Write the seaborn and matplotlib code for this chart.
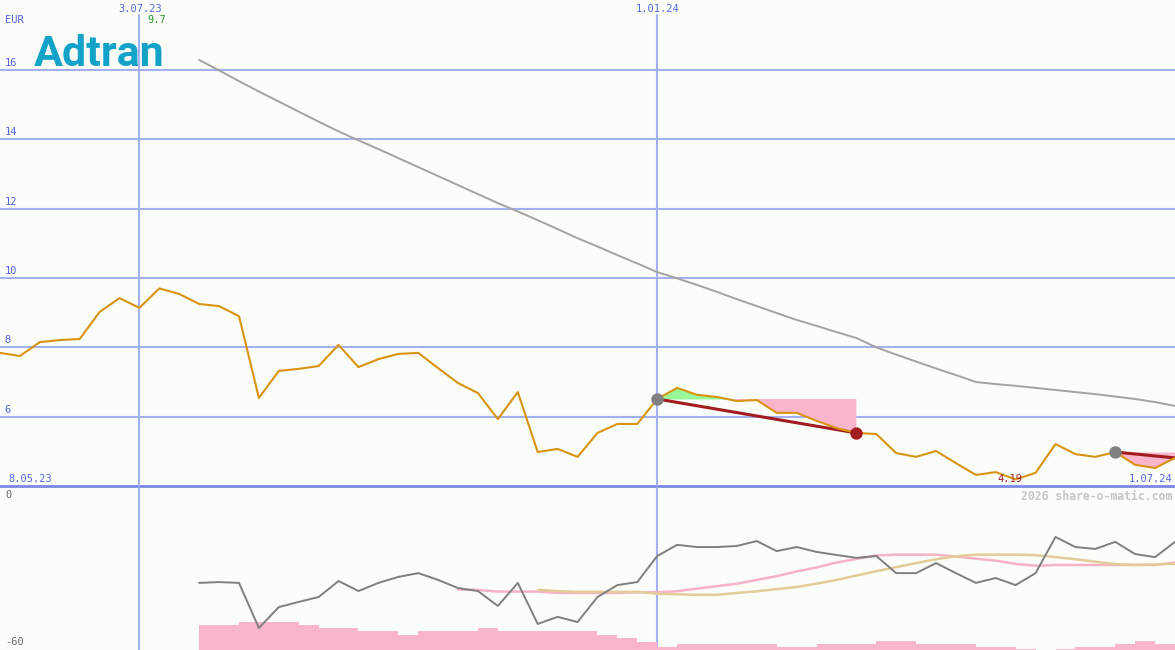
import pandas as pd
import seaborn as sns
import matplotlib.pyplot as plt

# weekly closes in EUR, 15 May 2023 .. 1 Jul 2024
weeks = pd.date_range('2023-05-15', '2024-07-01', freq='7D')
price = [7.84, 7.75, 8.15, 8.21, 8.24, 9.02, 9.42, 9.14, 9.70, 9.54,
         9.25, 9.19, 8.90, 6.54, 7.32, 7.38, 7.46, 8.07, 7.43, 7.66,
         7.81, 7.84, 7.40, 6.97, 6.68, 5.93, 6.71, 4.98, 5.07, 4.84,
         5.53, 5.79, 5.79, 6.51, 6.83, 6.63, 6.57, 6.45, 6.48, 6.11,
         6.11, 5.88, 5.67, 5.53, 5.50, 4.95, 4.84, 5.01, 4.66, 4.32,
         4.40, 4.19, 4.38, 5.21, 4.92, 4.84, 4.98, 4.61, 4.52, 4.81]

# long moving average, from week 10 on
ma_long = [16.29, 15.99, 15.68, 15.38, 15.09, 14.80, 14.51, 14.23, 13.97, 13.72,
           13.46, 13.20, 12.94, 12.68, 12.42, 12.16, 11.92, 11.67, 11.41, 11.15,
           10.91, 10.66, 10.42, 10.17, 9.99, 9.80, 9.60, 9.39, 9.19, 8.99,
           8.79, 8.62, 8.44, 8.27, 8.00, 7.79, 7.59, 7.39, 7.20, 7.00,
           6.94, 6.89, 6.83, 6.77, 6.71, 6.65, 6.58, 6.51, 6.42, 6.31]

# lower panel: oscillator (from week 10), its two averages, and bars
osc = [-35.3, -35.0, -35.3, -51.9, -44.2, -42.3, -40.5, -34.6, -38.3, -35.3,
       -33.1, -31.7, -34.2, -37.2, -38.3, -43.8, -35.3, -50.4, -47.8, -49.7,
       -40.5, -36.1, -35.0, -25.4, -21.3, -22.1, -22.1, -21.7, -19.9, -23.6,
       -22.1, -23.9, -25.0, -26.1, -25.4, -31.7, -31.7, -28.0, -31.7, -35.3,
       -33.5, -36.1, -31.7, -18.4, -22.1, -22.8, -20.2, -24.7, -25.8, -20.2]
osc_avg1 = [-37.7, -37.9, -38.5, -38.5, -38.5, -39.0, -39.0, -39.0, -39.0, -38.8,
            -38.7, -38.4, -37.4, -36.5, -35.6, -34.2, -32.8, -31.1, -29.6, -27.8,
            -26.5, -25.2, -24.9, -24.9, -24.9, -25.6, -26.4, -27.1, -28.3, -29.0,
            -28.7, -28.7, -28.7, -28.7, -28.7, -28.7, -27.8]          # from week 23
osc_avg2 = [-37.9, -38.3, -38.6, -38.6, -38.6, -38.6, -39.3, -39.5, -39.7, -39.7,
            -39.0, -38.4, -37.6, -36.8, -35.6, -34.2, -32.6, -31.0, -29.5, -28.0,
            -26.6, -25.5, -24.9, -24.9, -24.9, -25.1, -25.8, -26.6, -27.5, -28.4,
            -28.7, -28.5, -28.3]                                        # from week 27
bars = [9.2, 9.2, 10.3, 10.3, 10.3, 9.2, 8.1, 8.1, 7.0, 7.0,
        5.5, 7.0, 7.0, 7.0, 8.1, 7.0, 7.0, 7.0, 7.0, 7.0,
        5.5, 4.4, 2.9, 1.2, 2.35, 2.35, 2.35, 2.35, 2.35, 1.2,
        1.2, 2.35, 2.35, 2.35, 3.45, 3.45, 2.35, 2.35, 2.35, 1.2,
        1.2, 0.4, 0.0, 0.4, 1.2, 1.2, 2.35, 3.45, 2.35]                # weeks 10..58

# trend windows (start week, end week)
windows = [(33, 43), (56, 59)]
marked_dates = ['2023-07-03', '2024-01-01']

BG = '#fbfdf9'
GRID = '#a3b0f2'
BLUE_TXT = '#5566e6'
ORANGE = '#d89410'
DARKRED = '#a21d22'

sns.set_style('white')
plt.rcParams['font.family'] = ['DejaVu Sans Mono']

W, H = 1175, 650
fig = plt.figure(figsize=(W / 100, H / 100), dpi=100)
fig.patch.set_facecolor(BG)
ax = fig.add_axes([0, 1 - 486 / H, 1, 486 / H])
ax2 = fig.add_axes([0, 0, 1, 163 / H])
for a in (ax, ax2):
    a.set_facecolor(BG)
    a.set_xlim(weeks[0], weeks[-1])
    a.axis('off')
ax.set_ylim(4, 18.02)
ax2.set_ylim(-60, 0)


def fx(x):
    return x / W


def fy(y):
    return 1 - y / H


# grid
for v in [6, 8, 10, 12, 14, 16]:
    ax.axhline(v, color=GRID, lw=1.5, zorder=1)
    ax.text(0.004, v + 0.06, str(v), transform=ax.get_yaxis_transform(),
            color=BLUE_TXT, fontsize=7.5, va='bottom', ha='left')
ax.axhline(4, color='#7b88e6', lw=2, zorder=1, clip_on=False)
for d in marked_dates:
    ax.axvline(pd.Timestamp(d), ymax=(486 - 15) / 486, color=GRID, lw=1.5, zorder=1)
    ax2.axvline(pd.Timestamp(d), color=GRID, lw=1.5, zorder=1)

df = pd.DataFrame({'week': weeks, 'price': price})
ma_df = pd.DataFrame({'week': weeks[10:], 'ma': ma_long})

# trend fills and lines
for s, e in windows:
    seg = df.iloc[s:e + 1]
    base = price[s]
    ax.fill_between(seg['week'], seg['price'], base, where=seg['price'] >= base,
                    interpolate=True, color='#98f898', lw=0, zorder=2)
    ax.fill_between(seg['week'], seg['price'], base, where=seg['price'] <= base,
                    interpolate=True, color='#f9b5c9', lw=0, zorder=2)
    ax.plot([weeks[s], weeks[e]], [price[s], price[e]], color=DARKRED, lw=2.2, zorder=3)

sns.lineplot(data=ma_df, x='week', y='ma', ax=ax, color='#a3a3a3', lw=1.4, zorder=3)
sns.lineplot(data=df, x='week', y='price', ax=ax, color=ORANGE, lw=1.5, zorder=4)

for s, e in windows:
    ax.scatter([weeks[s]], [price[s]], s=80, color='#808080', zorder=5, lw=0)
    if e < len(price) - 1:
        ax.scatter([weeks[e]], [price[e]], s=80, color=DARKRED, zorder=5, lw=0)

# lower panel
ax2.bar(weeks[10:59], bars, bottom=-60, width=7, align='edge', color='#f9b5ca', lw=0, zorder=2)
sns.lineplot(x=weeks[23:], y=osc_avg1, ax=ax2, color='#f8b2c8', lw=1.8, zorder=3)
sns.lineplot(x=weeks[27:], y=osc_avg2, ax=ax2, color='#e3cb9a', lw=1.8, zorder=3)
sns.lineplot(x=weeks[10:], y=osc, ax=ax2, color='#7f7f7f', lw=1.4, zorder=4)

# labels
fig.text(fx(5), fy(20), 'EUR', color=BLUE_TXT, fontsize=7.5, va='center', ha='left')
fig.text(fx(140), fy(9), '3.07.23', color=BLUE_TXT, fontsize=7.5, va='center', ha='center')
fig.text(fx(658), fy(9), '1.01.24', color=BLUE_TXT, fontsize=7.5, va='center', ha='center')
fig.text(fx(147), fy(20), '9.7', color='#2a9a2a', fontsize=7.5, va='center', ha='left')
fig.text(fx(8), fy(479), '8.05.23', color=BLUE_TXT, fontsize=7.5, va='center', ha='left')
fig.text(fx(1172), fy(479), '1.07.24', color=BLUE_TXT, fontsize=7.5, va='center', ha='right')
fig.text(fx(1010), fy(479), '4.19', color=DARKRED, fontsize=7.5, va='center', ha='center')
fig.text(fx(1172), fy(496), '2026 share-o-matic.com', color='#c6c6c6', fontsize=8.3,
         va='center', ha='right', fontweight='bold')
fig.text(fx(5), fy(495), '0', color='#666666', fontsize=7.5, va='center', ha='left')
fig.text(fx(5), fy(642), '-60', color='#666666', fontsize=7.5, va='center', ha='left')
fig.text(fx(34), fy(66), 'Adtran', color='#14a2c8', fontsize=31, va='baseline', ha='left',
         family='Roboto', fontweight='semibold')

fig.savefig('out.png', dpi=100, facecolor=BG)
